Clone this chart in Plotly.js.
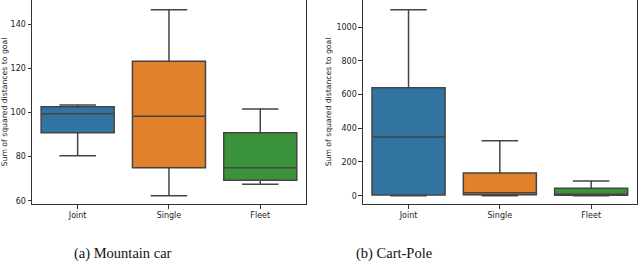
<!DOCTYPE html>
<html>
<head>
<meta charset="utf-8">
<script src="https://cdn.plot.ly/plotly-3.0.1.min.js"></script>
<style>html,body{margin:0;padding:0;background:#fff;}#chart{width:640px;height:262px;}</style>
</head>
<body>
<div id="chart"></div>
<script>
const categories = ["Joint", "Single", "Fleet"];
const colors = ["#3274a1", "#e1812c", "#3a923a"];

// Mountain car
const mcLower  = [80.3, 62.2, 67.4];
const mcQ1     = [90.8, 74.9, 69.3];
const mcMedian = [99.4, 98.3, 74.9];
const mcQ3     = [102.5, 123.2, 90.8];
const mcUpper  = [103.3, 146.5, 101.5];

// Cart-Pole
const cpLower  = [0, 0, 0];
const cpQ1     = [4, 6, 3];
const cpMedian = [348, 18, 8];
const cpQ3     = [640, 135, 44];
const cpUpper  = [1102, 326, 88];

const leftTicks = [60, 80, 100, 120, 140];
const rightTicks = [0, 200, 400, 600, 800, 1000];

const edge = "#444444";
const traces = [];
function addBoxes(lo, q1, med, q3, up, xa, ya) {
  categories.forEach((c, i) => {
    traces.push({
      type: "box",
      x: [c], lowerfence: [lo[i]], q1: [q1[i]], median: [med[i]], q3: [q3[i]], upperfence: [up[i]],
      xaxis: xa, yaxis: ya,
      width: 0.8,
      whiskerwidth: 0.5,
      fillcolor: colors[i],
      line: {color: edge, width: 1.5},
      boxpoints: false,
      showlegend: false,
      hoverinfo: "y"
    });
  });
}
addBoxes(mcLower, mcQ1, mcMedian, mcQ3, mcUpper, "x", "y");
addBoxes(cpLower, cpQ1, cpMedian, cpQ3, cpUpper, "x2", "y2");

const tickFont = {family: "DejaVu Sans", size: 8, color: "#222"};
const axisCommon = {
  showline: true, mirror: true, linecolor: "#333", linewidth: 1,
  showgrid: false, zeroline: false, ticks: "outside", ticklen: 3.5, tickwidth: 1, tickcolor: "#333",
  tickfont: tickFont
};
const titleFont = {family: "DejaVu Sans", size: 7.7, color: "#222"};

const layout = {
  width: 640, height: 262,
  margin: {l: 0, r: 0, t: 0, b: 58},
  paper_bgcolor: "#fff", plot_bgcolor: "#fff",
  xaxis: Object.assign({}, axisCommon, {domain: [0.05, 0.478], anchor: "y", type: "category", range: [-0.5, 2.5], categoryarray: categories}),
  yaxis: Object.assign({}, axisCommon, {anchor: "x", range: [58.5, 150.9], tickvals: leftTicks,
    title: {text: "Sum of squared distances to goal", font: titleFont, standoff: 3}}),
  xaxis2: Object.assign({}, axisCommon, {domain: [0.567, 0.995], anchor: "y2", type: "category", range: [-0.5, 2.5], categoryarray: categories}),
  yaxis2: Object.assign({}, axisCommon, {anchor: "x2", range: [-49, 1160], tickvals: rightTicks,
    title: {text: "Sum of squared distances to goal", font: titleFont, standoff: 3}}),
  annotations: [
    {text: "(a) Mountain car", xref: "paper", yref: "paper", x: 123/640, y: -49/204, xanchor: "center", yanchor: "middle", showarrow: false,
     font: {family: "Liberation Serif", size: 14.5, color: "#111"}},
    {text: "(b) Cart-Pole", xref: "paper", yref: "paper", x: 394/640, y: -49/204, xanchor: "center", yanchor: "middle", showarrow: false,
     font: {family: "Liberation Serif", size: 14.5, color: "#111"}}
  ]
};
Plotly.newPlot("chart", traces, layout, {displayModeBar: false, staticPlot: true});
</script>
</body>
</html>
